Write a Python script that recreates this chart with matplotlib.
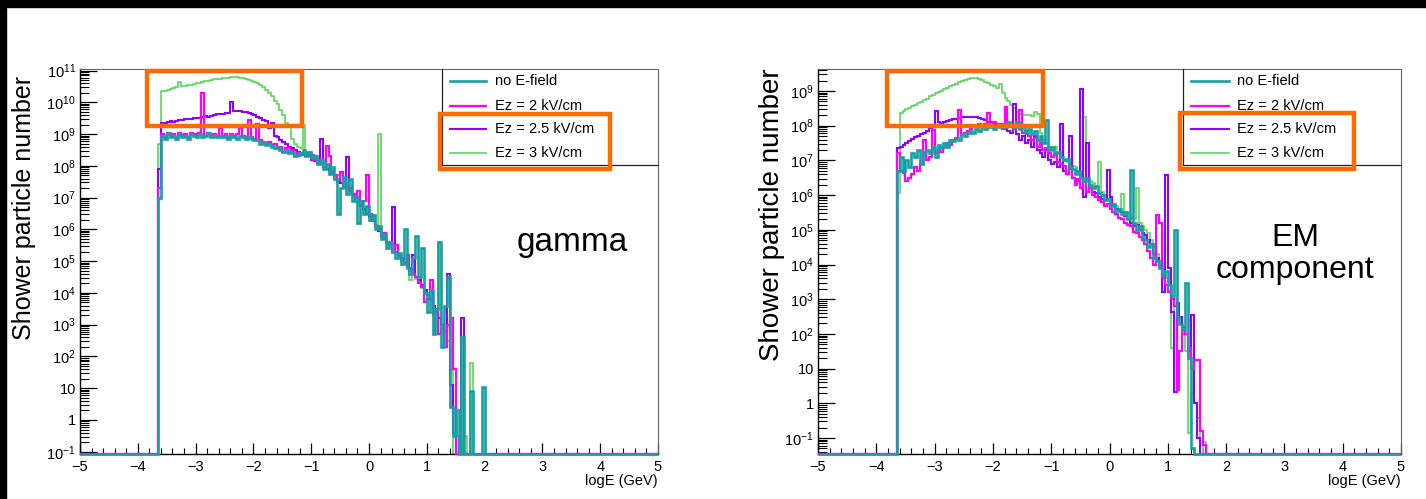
import numpy as np
import matplotlib
matplotlib.use("Agg")
import matplotlib.pyplot as plt
from matplotlib.patches import Rectangle
from matplotlib.lines import Line2D
from matplotlib.ticker import FixedLocator, MultipleLocator, FuncFormatter, NullFormatter

plt.rcParams['font.family'] = ['Liberation Sans', 'DejaVu Sans']
plt.rcParams['mathtext.fontset'] = 'custom'
plt.rcParams['mathtext.rm'] = 'Liberation Sans'
plt.rcParams['mathtext.default'] = 'regular'

# histogram binning: 200 bins of 0.05 in logE from -5 to 5, data start at -3.65
BIN_WIDTH = 0.05
FIRST_BIN = -3.65
labels = ['no E-field', 'Ez = 2 kV/cm', 'Ez = 2.5 kV/cm', 'Ez = 3 kV/cm']

# log10(particle number) per bin, None = empty bin
gamma_no_field = [
    7.0, 8.95, 8.85, 9.05, 8.9, 8.95, 8.85, 9.0, 8.9, 8.95,
    8.85, 9.0, 8.95, 8.9, 9.0, 8.9, 8.95, 9.05, 8.9, 8.95,
    8.9, 8.95, 8.9, 8.95, 8.85, 8.95, 8.9, 8.85, 8.95, 8.9,
    8.85, 8.9, 8.85, 8.8, 8.8, 8.7, 8.75, 8.65, 8.7, 8.6,
    8.55, 8.6, 8.5, 8.45, 8.5, 8.4, 8.45, 8.3, 8.35, 8.4,
    8.5, 8.3, 8.45, 8.25, 8.3, 8.05, 8.2, 7.9, 8.05, 7.75,
    7.95, 7.6, 6.5, 7.3, 7.65, 7.1, 7.6, 6.9, 7.05, 6.2,
    6.9, 6.5, 6.75, 6.3, 6.45, 6.0, 6.1, 5.7, 5.85, 5.4,
    5.6, 5.3, 5.1, 5.25, 4.9, 6.0, 4.8, 4.6, 5.1, 5.8,
    4.5, 5.4, 4.0, 3.4, 4.1, 2.7, 3.5, 5.6, 2.3, 3.6,
    4.5, 0.4, -0.5, 0.3, None, 2.6, None, None, 0.9, None,
    None, None, 1.05,
]
gamma_2kV = [
    7.3, 9.0, 8.9, 9.05, 8.95, 9.0, 8.9, 9.05, 8.95, 9.0,
    8.9, 9.05, 9.0, 8.95, 9.05, 10.3, 8.95, 9.05, 8.95, 9.0,
    8.95, 9.18, 8.95, 9.0, 8.9, 9.0, 8.95, 9.0, 9.18, 8.95,
    8.9, 9.45, 8.9, 8.85, 9.33, 8.8, 8.75, 8.7, 8.75, 8.65,
    8.7, 8.55, 8.6, 8.45, 8.55, 8.4, 8.5, 8.3, 8.4, 8.35,
    8.4, 8.35, 8.3, 8.35, 8.2, 8.15, 8.1, 7.95, 8.64, 8.3,
    7.8, 7.7, 7.55, 7.8, 7.5, 7.35, 7.3, 7.1, 7.0, 7.2,
    6.8, 6.9, 7.7, 6.5, 6.3, 6.1, 6.0, 5.8, 5.9, 5.6,
    5.5, 5.3, 5.5, 5.2, 5.0, 4.9, 5.2, 4.7, 4.6, 4.5,
    4.3, 4.2, 3.7, 3.8, 4.4, 3.3, 3.5, 2.7, 2.9, 2.3,
    3.0, 3.2, 1.6, None, -0.6, None, None, None, None, None,
    None, None, None,
]
gamma_2p5kV = [
    7.9, 9.34, 9.36, 9.38, 9.4, 9.38, 9.42, 9.44, 9.43, 9.46,
    9.48, 9.47, 9.5, 9.52, 9.51, 9.54, 9.56, 9.55, 9.58, 9.6,
    9.62, 9.63, 9.64, 9.65, 9.66, 10.0, 9.72, 9.74, 9.72, 9.7,
    9.68, 9.65, 9.62, 9.6, 9.55, 9.5, 9.45, 9.4, 9.2, 9.36,
    8.95, 8.9, 8.8, 8.75, 8.7, 8.6, 8.55, 8.5, 8.45, 8.4,
    8.35, 8.3, 8.4, 8.2, 8.15, 8.1, 8.83, 7.95, 7.9, 7.85,
    7.75, 7.6, 7.5, 7.45, 7.35, 8.27, 7.2, 7.1, 6.95, 6.85,
    6.75, 6.65, 6.5, 6.4, 6.25, 6.1, 5.95, 5.8, 5.7, 5.6,
    5.5, 6.7, 5.3, 5.2, 5.1, 4.95, 4.85, 4.75, 5.2, 4.5,
    4.4, 4.25, 4.1, 3.95, 3.8, 3.6, 3.4, 3.2, 3.0, 2.8,
    4.6, 1.1, -0.4, None, None, 3.2, None, None, None, None,
    None, None, None,
]
gamma_3kV = [
    8.7, 10.35, 10.37, 10.39, 10.41, 10.44, 10.47, 10.63, 10.5, 10.52,
    10.54, 10.56, 10.58, 10.6, 10.62, 10.64, 10.66, 10.68, 10.7, 10.72,
    10.73, 10.75, 10.76, 10.77, 10.78, 10.79, 10.79, 10.79, 10.78, 10.76,
    10.74, 10.7, 10.66, 10.64, 10.6, 10.54, 10.48, 10.4, 10.3, 10.2,
    10.05, 9.95, 9.75, 9.6, 9.35, 9.3, 8.85, 8.7, 8.6, 8.55,
    9.3, 8.4, 8.45, 8.25, 8.3, 8.1, 8.15, 7.95, 8.0, 7.85,
    7.85, 7.65, 7.7, 7.45, 7.5, 7.25, 7.3, 7.05, 7.1, 6.85,
    6.85, 6.6, 6.7, 6.4, 6.45, 6.15, 9.0, 5.85, 5.8, 5.55,
    5.55, 5.35, 5.4, 5.15, 5.1, 4.9, 4.95, 4.4, 4.7, 4.45,
    4.4, 4.15, 4.1, 3.85, 3.75, 3.5, 3.45, 5.6, 3.0, 2.7,
    2.5, 1.6, None, -0.5, None, None, -0.5, None, 1.8, None,
    None, None, None,
]

em_no_field = [
    6.7, 7.1, 6.7, 7.0, 6.8, 7.2, 7.1, 7.3, 6.9, 7.25,
    7.3, 7.2, 7.4, 7.1, 7.45, 7.35, 7.5, 7.4, 7.6, 7.55,
    7.65, 7.6, 7.75, 7.7, 7.8, 7.85, 7.8, 7.9, 7.85, 7.95,
    7.9, 7.95, 8.0, 7.9, 8.0, 7.95, 8.05, 7.95, 8.1, 8.0,
    7.95, 8.1, 7.9, 8.0, 7.8, 7.9, 7.75, 7.85, 7.6, 7.7,
    7.5, 8.15, 7.3, 7.4, 7.2, 7.25, 7.1, 7.0, 7.05, 6.8,
    6.75, 6.6, 6.7, 6.5, 6.4, 6.5, 6.3, 6.2, 6.25, 6.05,
    6.0, 5.85, 5.9, 5.7, 5.75, 5.55, 5.6, 5.45, 5.5, 5.3,
    6.72, 5.2, 5.0, 5.1, 4.8, 4.7, 4.5, 4.6, 4.2, 4.1,
    3.9, 3.7, 3.8, 3.4, 3.1, 5.0, 2.5, 2.3, 2.1, 3.46,
    1.3, -1.3, None, None, None, None, None,
]
em_2kV = [
    7.2, 6.7, 6.63, 6.4, 6.5, 6.6, 6.82, 6.7, 6.9, 7.59,
    7.0, 7.1, 7.88, 7.2, 7.3, 7.25, 7.4, 7.5, 7.45, 7.6,
    7.65, 8.45, 7.73, 7.8, 7.85, 7.9, 8.0, 7.95, 8.05, 8.0,
    8.05, 8.36, 7.95, 8.1, 8.0, 8.05, 7.9, 8.55, 7.95, 8.0,
    7.9, 8.0, 8.45, 7.8, 7.85, 7.7, 7.6, 7.65, 7.4, 7.5,
    7.3, 7.35, 7.2, 7.1, 7.15, 6.95, 6.9, 6.85, 6.6, 6.75,
    6.5, 6.3, 6.45, 6.2, 6.4, 6.1, 6.2, 6.0, 5.95, 5.85,
    5.8, 5.7, 5.75, 5.6, 5.5, 5.45, 5.35, 5.3, 5.2, 5.15,
    5.1, 4.95, 4.9, 4.8, 4.7, 4.6, 4.4, 4.2, 4.0, 5.43,
    5.2, 3.6, 3.4, 3.2, 3.0, 2.8, 0.37, 1.5, 2.2, 2.0,
    1.6, 1.0, 1.25, 1.25, -0.8, -1.2, None,
]
em_2p5kV = [
    7.35, 7.4, 7.44, 7.5, 7.56, 7.62, 7.67, 7.7, 7.75, 7.79,
    7.85, 7.93, 7.95, 8.43, 8.1, 8.08, 8.1, 8.14, 8.17, 8.18,
    8.2, 8.22, 8.24, 8.25, 8.26, 8.26, 8.25, 8.24, 8.22, 8.2,
    8.15, 8.12, 8.1, 8.08, 8.05, 8.0, 7.95, 7.9, 7.85, 7.8,
    8.62, 7.75, 7.6, 7.7, 7.5, 7.6, 7.4, 7.7, 7.3, 7.2,
    7.1, 7.3, 7.0, 6.9, 6.95, 6.8, 8.05, 6.7, 6.6, 7.7,
    6.5, 6.45, 6.4, 9.05, 5.95, 7.5, 6.2, 6.1, 6.05, 5.95,
    5.9, 5.85, 6.72, 5.95, 5.7, 5.6, 5.55, 5.5, 5.4, 5.3,
    5.2, 5.1, 5.15, 5.0, 4.9, 4.85, 4.7, 4.6, 4.3, 4.2,
    4.0, 3.2, 6.58, 3.9, 2.62, 0.33, 2.9, 2.5, 2.2, 2.0,
    1.5, 2.54, 0.0, -1.0, None, None, None,
]
em_3kV = [
    6.05, 8.37, 8.42, 8.47, 8.52, 8.56, 8.6, 8.64, 8.69, 8.73,
    8.78, 8.85, 8.89, 8.93, 8.97, 9.01, 9.05, 9.1, 9.13, 9.17,
    9.21, 9.25, 9.29, 9.32, 9.35, 9.37, 9.37, 9.36, 9.34, 9.31,
    9.27, 9.22, 9.17, 9.14, 9.1, 9.2, 8.93, 8.8, 8.7, 8.6,
    8.5, 8.4, 8.35, 8.31, 8.3, 8.3, 8.28, 8.4, 8.35, 7.8,
    7.6, 7.5, 7.4, 7.3, 7.4, 7.2, 7.1, 7.0, 6.95, 6.9,
    6.85, 6.8, 6.7, 6.6, 8.26, 6.5, 6.4, 6.35, 6.25, 6.96,
    6.1, 6.0, 5.9, 5.85, 5.75, 5.7, 5.6, 6.03, 5.5, 5.45,
    5.35, 5.3, 6.2, 5.2, 5.1, 5.0, 4.9, 4.7, 4.5, 4.3,
    4.1, 3.9, 3.6, 3.5, 1.6, 3.0, 2.7, 2.4, 2.0, 1.5,
    -0.85, 0.3, 0.0, -0.42, None, -1.1, None,
]

colors = ['#17a0a0', '#ff00ff', '#9400ff', '#5cd65c']
widths = [1.9, 1.6, 1.5, 1.2]
orange = '#ff6a00'

W, H = 1426, 499
edges = np.linspace(-5, 5, 201)


def to_counts(logs, ymin):
    full = np.full(200, ymin)
    start = int(round((FIRST_BIN + 5) / BIN_WIDTH))
    for k, v in enumerate(logs):
        if v is not None:
            full[start + k] = 10.0 ** v
    return full


def root_fmt(v, pos):
    e = int(round(np.log10(v)))
    if e == 0:
        return '1'
    if e == 1:
        return '10'
    return '$10^{%d}$' % e


def fx(px):
    return px / W


def fy(py):
    return 1 - py / H


def draw_panel(ax, series, ylim):
    # green first, teal on top
    for k in [3, 2, 1, 0]:
        ax.stairs(to_counts(series[k], ylim[0]), edges, color=colors[k],
                  lw=widths[k], baseline=None, zorder=2 + (3 - k), clip_on=False)
    ax.set_xlim(-5, 5)
    ax.set_yscale('log')
    ax.set_ylim(*ylim)
    lo = int(np.ceil(np.log10(ylim[0])))
    hi = int(np.floor(np.log10(ylim[1])))
    decades = [10.0 ** e for e in range(lo, hi + 1)]
    minors = [m * 10.0 ** e for e in range(lo - 1, hi + 1) for m in range(2, 10)
              if ylim[0] <= m * 10.0 ** e <= ylim[1]]
    ax.xaxis.set_major_locator(MultipleLocator(1))
    ax.xaxis.set_minor_locator(MultipleLocator(0.2))
    ax.yaxis.set_major_locator(FixedLocator(decades))
    ax.yaxis.set_minor_locator(FixedLocator(minors))
    ax.yaxis.set_major_formatter(FuncFormatter(root_fmt))
    ax.yaxis.set_minor_formatter(NullFormatter())
    ax.tick_params(axis='x', which='major', direction='in', length=8, width=0.9,
                   labelsize=10.5, pad=4, top=False)
    ax.tick_params(axis='x', which='minor', direction='in', length=4, width=0.8, top=False)
    ax.tick_params(axis='y', which='major', direction='in', length=12, width=0.9,
                   labelsize=10.5, pad=3, right=False)
    ax.tick_params(axis='y', which='minor', direction='in', length=6.5, width=0.8, right=False)
    for s in ['left', 'bottom']:
        ax.spines[s].set_color('black')
        ax.spines[s].set_linewidth(1.0)
    for s in ['top', 'right']:
        ax.spines[s].set_color('#666666')
        ax.spines[s].set_linewidth(0.8)


fig = plt.figure(figsize=(W / 100, H / 100), dpi=100, facecolor='white')

ax1 = fig.add_axes([fx(80), fy(454), (658 - 80) / W, (454 - 69) / H])
ax2 = fig.add_axes([fx(818), fy(454), (1401 - 818) / W, (454 - 69) / H])

draw_panel(ax1, [gamma_no_field, gamma_2kV, gamma_2p5kV, gamma_3kV], (0.085, 1.12e11))
draw_panel(ax2, [em_no_field, em_2kV, em_2p5kV, em_3kV], (0.0347, 4.3e9))

# axis titles
fig.text(fx(658), fy(481), 'logE (GeV)', ha='right', va='center', fontsize=10.5)
fig.text(fx(1401), fy(481), 'logE (GeV)', ha='right', va='center', fontsize=10.5)
fig.text(fx(24), fy(208), 'Shower particle number', rotation=90, ha='center', va='center', fontsize=18)
fig.text(fx(772), fy(215), 'Shower particle number', rotation=90, ha='center', va='center', fontsize=20)

# legends (ROOT style box in the top right corner)
legend_y = [81, 106, 129, 153]
for lx0, box_right, line_x, text_x in [(442, 658, (450, 486), 495), (1183, 1401, (1191, 1229), 1237)]:
    fig.add_artist(Line2D([fx(lx0), fx(lx0)], [fy(69), fy(165)], color='#222222', lw=0.9,
                          transform=fig.transFigure))
    fig.add_artist(Line2D([fx(lx0), fx(box_right)], [fy(165), fy(165)], color='#222222', lw=0.9,
                          transform=fig.transFigure))
    for k, y in enumerate(legend_y):
        fig.add_artist(Line2D([fx(line_x[0]), fx(line_x[1])], [fy(y), fy(y)], color=colors[k],
                              lw=widths[k], transform=fig.transFigure))
        fig.text(fx(text_x), fy(y), labels[k], ha='left', va='center', fontsize=10.5)

# orange highlight boxes
for (x0, y0, x1, y1) in [(147, 71, 302, 126), (440, 114, 610, 169),
                         (887, 71, 1043, 126), (1180, 113, 1354, 169)]:
    fig.add_artist(Rectangle((fx(x0), fy(y1)), (x1 - x0) / W, (y1 - y0) / H, fill=False,
                             edgecolor=orange, lw=3.2, transform=fig.transFigure, zorder=10))

# panel annotations
fig.text(fx(572), fy(242), 'gamma', ha='center', va='center', fontsize=24)
fig.text(fx(1295), fy(254), 'EM\ncomponent', ha='center', va='center', fontsize=23,
         linespacing=1.05, multialignment='center')

# black screen borders
fig.add_artist(Rectangle((0, fy(7)), 1, 7 / H, color='black', transform=fig.transFigure, zorder=20))
fig.add_artist(Rectangle((0, 0), 6 / W, 1, color='black', transform=fig.transFigure, zorder=20))

fig.savefig('out.png', dpi=100, facecolor='white')
